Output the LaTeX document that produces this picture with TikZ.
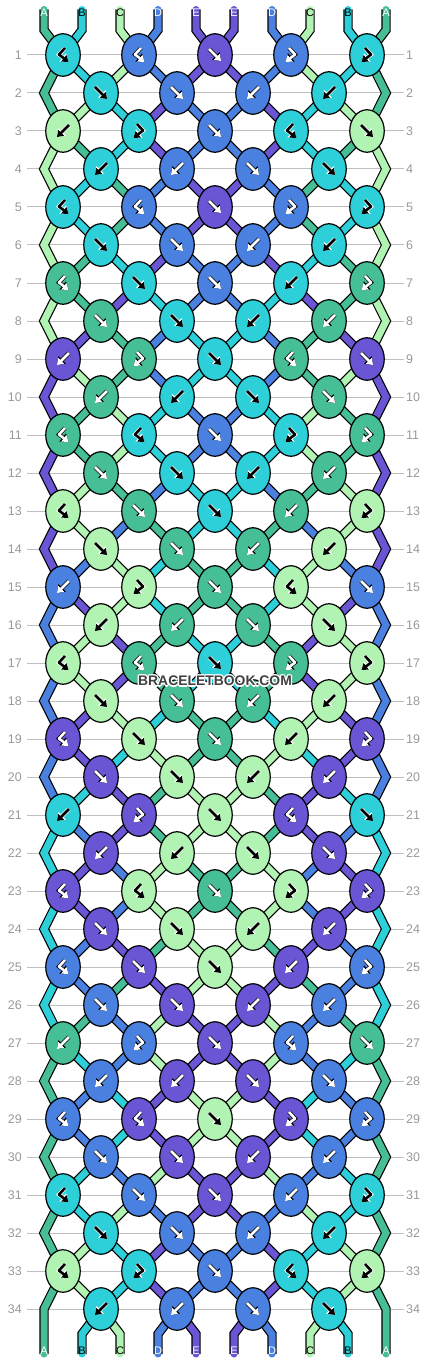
\documentclass[tikz,border=0pt]{standalone}
\usepackage{fontspec}
\setmainfont{Liberation Sans}
\usetikzlibrary{shapes.geometric,arrows.meta}

\definecolor{colA}{RGB}{70,190,150}
\definecolor{colB}{RGB}{45,207,217}
\definecolor{colC}{RGB}{176,243,178}
\definecolor{colD}{RGB}{74,129,224}
\definecolor{colE}{RGB}{106,85,212}
\colorlet{arrA}{white}\colorlet{olA}{black}
\colorlet{arrB}{black}\colorlet{olB}{white}
\colorlet{arrC}{black}\colorlet{olC}{white}
\colorlet{arrD}{white}\colorlet{olD}{black}
\colorlet{arrE}{white}\colorlet{olE}{black}

% which strand shows on a knot
\def\pickF#1#2{#1}
\def\pickFB#1#2{#1}
\def\pickB#1#2{#2}
\def\pickBF#1#2{#2}

% knot arrows
\newcommand\glyphF[1]{\draw[glyph=#1] (-6,-6) -- (6,6);}
\newcommand\glyphB[1]{\draw[glyph=#1] (6,-6) -- (-6,6);}
\newcommand\glyphBF[1]{\draw[glyph=#1] (2,-7) -- (-4,-0.5) -- (5.5,7);}
\newcommand\glyphFB[1]{\draw[glyph=#1] (-2,-7) -- (4,-0.5) -- (-5.5,7);}

\pgfdeclarelayer{strands}
\pgfsetlayers{strands,main}

\begin{document}
\begin{tikzpicture}[x=1pt,y=-1pt,
    knot/.style={ellipse, draw=black, line width=1.2pt, fill=col#1, minimum width=34.5pt, minimum height=42.5pt, inner sep=0pt},
    strand/.style={draw=col#1, line width=7pt, preaction={draw=black, line width=9.4pt}},
    glyph/.style={draw=arr#1, line width=2.6pt, line join=round, -{Triangle[length=6pt,width=8pt]},
        preaction={draw=ol#1, line width=4pt, -{Triangle[length=7.4pt,width=10.2pt]}}},
    rowno/.style={text=black!40, font=\fontsize{12.5}{12.5}\selectfont, inner sep=0pt},
    rowline/.style={draw=black!25, line width=1pt},
    tag/.style={text=arr#1, font=\fontsize{11}{11}\selectfont, inner sep=0pt}]
    \useasboundingbox (0,0) rectangle (430,1364);

    % Strand order after each row
    \foreach \lst [count=\rw from 0] in {{A,B,C,D,E,E,D,C,B,A},{A,B,C,D,E,E,D,C,B,A},
        {A,C,B,E,D,D,E,B,C,A},{C,A,B,E,D,D,E,B,A,C},{C,B,A,D,E,E,D,A,B,C},{C,B,A,D,E,E,D,A,B,C},
        {C,A,B,E,D,D,E,B,A,C},{C,A,E,B,D,D,B,E,A,C},{C,E,A,D,B,B,D,A,E,C},{E,C,A,D,B,B,D,A,C,E},
        {E,A,C,B,D,D,B,C,A,E},{E,A,C,B,D,D,B,C,A,E},{E,C,A,D,B,B,D,A,C,E},{E,C,D,A,B,B,A,D,C,E},
        {E,D,C,B,A,A,B,C,D,E},{D,E,C,B,A,A,B,C,E,D},{D,C,E,A,B,B,A,E,C,D},{D,C,E,A,B,B,A,E,C,D},
        {D,E,C,B,A,A,B,C,E,D},{D,E,B,C,A,A,C,B,E,D},{D,B,E,A,C,C,A,E,B,D},{B,D,E,A,C,C,A,E,D,B},
        {B,E,D,C,A,A,C,D,E,B},{B,E,D,C,A,A,C,D,E,B},{B,D,E,A,C,C,A,E,D,B},{B,D,A,E,C,C,E,A,D,B},
        {B,A,D,C,E,E,C,D,A,B},{A,B,D,C,E,E,C,D,B,A},{A,D,B,E,C,C,E,B,D,A},{A,D,B,E,C,C,E,B,D,A},
        {A,B,D,C,E,E,C,D,B,A},{A,B,C,D,E,E,D,C,B,A},{A,C,B,E,D,D,E,B,C,A},{A,C,B,E,D,D,E,B,C,A},
        {A,B,C,D,E,E,D,C,B,A}}{
        \foreach \s [count=\pos] in \lst {\expandafter\xdef\csname st\rw-\pos\endcsname{\s}}
    }

    % Row numbers
    \foreach \rw in {1,...,34}{
        \pgfmathtruncatemacro\y{55+38*(\rw-1)}
        \node[rowno, anchor=east] (nl-\rw) at (22,\y) {\rw};
        \node[rowno, anchor=west] (nr-\rw) at (406,\y) {\rw};
        \begin{pgfonlayer}{strands}
            \draw[rowline] ([xshift=5pt]nl-\rw.east) -- ([xshift=-2pt]nr-\rw.west);
        \end{pgfonlayer}
    }

    % Knots
    \foreach \lst [count=\rw] in {{BF,BF,F,FB,FB},{F,F,B,B},{B,FB,F,BF,F},{B,B,F,F},
        {BF,BF,F,FB,FB},{F,F,B,B},{BF,F,F,B,FB},{F,F,B,B},{B,FB,F,BF,F},{B,B,F,F},
        {BF,BF,F,FB,FB},{F,F,B,B},{BF,F,F,B,FB},{F,F,B,B},{B,FB,F,BF,F},{B,B,F,F},
        {BF,BF,F,FB,FB},{F,F,B,B},{BF,F,F,B,FB},{F,F,B,B},{B,FB,F,BF,F},{B,B,F,F},
        {BF,BF,F,FB,FB},{F,F,B,B},{BF,F,F,B,FB},{F,F,B,B},{B,FB,F,BF,F},{B,B,F,F},
        {BF,BF,F,FB,FB},{F,F,B,B},{BF,F,F,B,FB},{F,F,B,B},{BF,FB,F,BF,FB},{B,B,F,F}}{
        \pgfmathtruncatemacro\pv{\rw-1}
        \pgfmathtruncatemacro\y{55+38*\pv}
        \foreach \kind [count=\kn] in \lst {
            \ifodd\rw\relax
                \pgfmathtruncatemacro\pl{2*\kn-1}
                \pgfmathtruncatemacro\x{63+76*(\kn-1)}
            \else
                \pgfmathtruncatemacro\pl{2*\kn}
                \pgfmathtruncatemacro\x{101+76*(\kn-1)}
            \fi
            \pgfmathtruncatemacro\pp{\pl+1}
            \edef\kc{\csname pick\kind\endcsname{\csname st\pv-\pl\endcsname}{\csname st\pv-\pp\endcsname}}
            \node[knot=\kc] (k\rw-\kn) at (\x,\y) {};
            \begin{scope}[shift={(k\rw-\kn.center)}]
                \csname glyph\kind\endcsname{\kc}
            \end{scope}
        }
    }

    \begin{pgfonlayer}{strands}
        % Threads between knots
        \foreach \rw in {1,...,33}{
            \pgfmathtruncatemacro\nx{\rw+1}
            \ifodd\rw\relax
                \foreach \kn in {1,...,4}{
                    \pgfmathtruncatemacro\p{2*\kn}
                    \edef\sc{\csname st\rw-\p\endcsname}
                    \draw[strand=\sc] (k\rw-\kn.center) -- (k\nx-\kn.center);
                }
                \foreach \kn in {2,...,5}{
                    \pgfmathtruncatemacro\p{2*\kn-1}
                    \pgfmathtruncatemacro\m{\kn-1}
                    \edef\sc{\csname st\rw-\p\endcsname}
                    \draw[strand=\sc] (k\rw-\kn.center) -- (k\nx-\m.center);
                }
            \else
                \foreach \kn in {1,...,4}{
                    \pgfmathtruncatemacro\p{2*\kn}
                    \pgfmathtruncatemacro\q{2*\kn+1}
                    \pgfmathtruncatemacro\m{\kn+1}
                    \edef\sc{\csname st\rw-\p\endcsname}
                    \draw[strand=\sc] (k\rw-\kn.center) -- (k\nx-\kn.center);
                    \edef\sc{\csname st\rw-\q\endcsname}
                    \draw[strand=\sc] (k\rw-\kn.center) -- (k\nx-\m.center);
                }
            \fi
        }

        % Threads on the edges
        \foreach \rw in {2,4,...,32}{
            \pgfmathtruncatemacro\pv{\rw-1}
            \pgfmathtruncatemacro\nx{\rw+1}
            \pgfmathtruncatemacro\y{55+38*\pv}
            \coordinate (el-\rw) at (44,\y);
            \coordinate (er-\rw) at (386,\y);
            \edef\sc{\csname st\rw-1\endcsname}
            \draw[strand=\sc] (k\pv-1.center) -- (el-\rw) -- (k\nx-1.center);
            \edef\sc{\csname st\rw-10\endcsname}
            \draw[strand=\sc] (k\pv-5.center) -- (er-\rw) -- (k\nx-5.center);
        }

        % Loose ends at the top
        \foreach \pos/\lbl in {1/A,2/B,3/C,4/D,5/E,6/E,7/D,8/C,9/B,10/A}{
            \pgfmathtruncatemacro\x{44+38*(\pos-1)}
            \pgfmathtruncatemacro\kt{(\pos+1)/2}
            \coordinate (te-\pos) at (\x,9.5);
            \coordinate (tb-\pos) at (\x,30);
            \draw[strand=\lbl, line cap=round] (k1-\kt.center) -- (tb-\pos) -- (te-\pos);
        }

        % Loose ends at the bottom
        \foreach \pos/\lbl in {2/B,3/C,4/D,5/E,6/E,7/D,8/C,9/B}{
            \pgfmathtruncatemacro\x{44+38*(\pos-1)}
            \pgfmathtruncatemacro\kb{\pos/2}
            \coordinate (bb-\pos) at (\x,1334);
            \coordinate (be-\pos) at (\x,1354);
            \draw[strand=\lbl, line cap=round] (k34-\kb.center) -- (bb-\pos) -- (be-\pos);
        }
        \coordinate (bb-1) at (44,1309);
        \coordinate (be-1) at (44,1354);
        \coordinate (bb-10) at (386,1309);
        \coordinate (be-10) at (386,1354);
        \draw[strand=A, line cap=round] (k33-1.center) -- (bb-1) -- (be-1);
        \draw[strand=A, line cap=round] (k33-5.center) -- (bb-10) -- (be-10);
    \end{pgfonlayer}

    % Thread letters
    \foreach \pos/\lbl in {1/A,2/B,3/C,4/D,5/E,6/E,7/D,8/C,9/B,10/A}{
        \pgfmathtruncatemacro\x{44+38*(\pos-1)}
        \node[tag=\lbl] (tl-\pos) at (\x,13) {\lbl};
        \node[tag=\lbl] (bl-\pos) at (\x,1351) {\lbl};
    }

    % Watermark
    \foreach \a in {0,45,...,315}{
        \path (215,681) ++(\a:1.3) node[text=white, font=\bfseries\fontsize{13.9}{14}\selectfont] (halo-\a) {BRACELETBOOK.COM};
    }
    \node[text=black!75, font=\bfseries\fontsize{13.9}{14}\selectfont] (mark) at (215,681) {BRACELETBOOK.COM};
\end{tikzpicture}
\end{document}
